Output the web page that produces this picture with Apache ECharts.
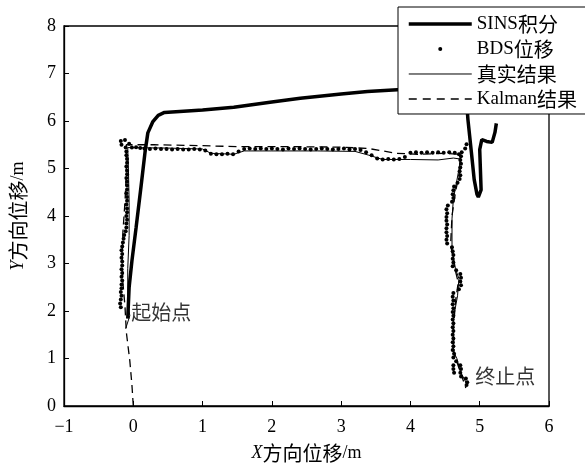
<!DOCTYPE html>
<html>
<head>
<meta charset="utf-8">
<script src="https://cdn.jsdelivr.net/npm/echarts@6/dist/echarts.min.js"></script>
<style>
html, body { margin: 0; padding: 0; background: #fff; }
#chart-container { width: 585px; height: 468px; }
</style>
</head>
<body>
<div id="chart-container"></div>
<script>
// axis ranges / ticks
var xTicks = [-1, 0, 1, 2, 3, 4, 5, 6];
var yTicks = [0, 1, 2, 3, 4, 5, 6, 7, 8];

// SINS积分 (thick line)
var sinsPath = [[-0.08,1.84],[-0.06,2.5],[-0.02,3.05],[0.04,3.75],[0.11,4.6],[0.17,5.35],[0.21,5.75],[0.28,5.98],[0.36,6.12],[0.45,6.18],[1.0,6.23],[1.45,6.29],[2.0,6.4],[2.41,6.48],[3.0,6.57],[3.38,6.62],[3.81,6.66],[4.3,6.7],[4.62,6.72],[4.76,6.68],[4.81,6.45],[4.83,6.03],[4.88,5.34],[4.92,4.77],[4.96,4.46],[4.98,4.4],[5.02,4.55],[5.01,4.98],[5.0,5.4],[5.03,5.61],[5.1,5.57],[5.18,5.55],[5.22,5.76],[5.24,5.95]];

// BDS位移 (dots)
var bdsPoints = [
  [-0.18,2.08],[-0.19,2.16],[-0.18,2.24],[-0.17,2.32],[-0.18,2.40],[-0.17,2.48],[-0.17,2.56],[-0.16,2.64],[-0.17,2.72],[-0.16,2.80],[-0.17,2.88],[-0.16,2.96],[-0.16,3.04],[-0.17,3.12],[-0.16,3.20],[-0.17,3.28],[-0.16,3.36],[-0.15,3.44],[-0.14,3.52],[-0.13,3.60],[-0.11,3.68],[-0.10,3.76],[-0.10,3.84],[-0.09,3.92],[-0.10,4.00],[-0.09,4.08],[-0.09,4.16],[-0.10,4.24],[-0.09,4.32],[-0.09,4.40],[-0.10,4.48],[-0.09,4.56],[-0.09,4.64],[-0.09,4.72],[-0.10,4.80],[-0.09,4.88],[-0.09,4.96],[-0.10,5.04],[-0.09,5.12],[-0.09,5.20],[-0.10,5.28],[-0.10,5.36],[-0.11,5.44],[-0.17,5.50],[-0.18,5.58],[-0.12,5.60],[-0.06,5.52],
  [-0.02,5.44],[0.04,5.45],[0.10,5.43],[0.16,5.42],[0.24,5.41],[0.32,5.42],[0.40,5.41],[0.48,5.41],[0.56,5.40],[0.64,5.41],[0.72,5.40],[0.80,5.40],[0.88,5.41],[0.96,5.40],[1.04,5.38],[1.12,5.31],[1.20,5.30],[1.28,5.30],[1.36,5.31],[1.44,5.30],[1.52,5.36],[1.60,5.41],[1.68,5.42],[1.76,5.41],[1.84,5.42],[1.92,5.41],[2.00,5.42],[2.08,5.41],[2.16,5.40],[2.24,5.42],[2.32,5.41],[2.40,5.42],[2.48,5.41],[2.56,5.40],[2.64,5.41],[2.72,5.42],[2.80,5.41],[2.88,5.40],[2.96,5.41],[3.04,5.42],[3.12,5.40],[3.20,5.41],[3.28,5.39],[3.36,5.34],[3.44,5.28],[3.52,5.21],[3.60,5.19],[3.68,5.20],[3.76,5.19],[3.84,5.20],[3.92,5.24],[4.00,5.33],[4.08,5.34],[4.16,5.33],[4.24,5.34],[4.32,5.33],[4.40,5.34],[4.48,5.33],[4.56,5.34],[4.64,5.33],[4.70,5.30],
  [4.81,5.51],[4.79,5.42],[4.74,5.34],[4.73,5.26],[4.72,5.18],[4.73,5.10],[4.72,5.02],[4.71,4.94],[4.72,4.86],[4.71,4.78],[4.68,4.70],[4.63,4.62],[4.62,4.54],[4.61,4.46],[4.62,4.38],[4.60,4.30],[4.54,4.22],[4.52,4.14],[4.53,4.06],[4.52,3.98],[4.52,3.90],[4.53,3.82],[4.52,3.74],[4.52,3.66],[4.53,3.58],[4.52,3.50],[4.53,3.42],[4.60,3.34],[4.61,3.26],[4.62,3.18],[4.61,3.10],[4.62,3.02],[4.61,2.94],[4.66,2.86],[4.72,2.78],[4.73,2.70],[4.72,2.62],[4.73,2.54],[4.70,2.46],[4.62,2.38],[4.61,2.30],[4.62,2.22],[4.61,2.14],[4.62,2.06],[4.61,1.98],[4.62,1.90],[4.61,1.82],[4.62,1.74],[4.61,1.66],[4.62,1.58],[4.61,1.50],[4.62,1.42],[4.61,1.34],[4.62,1.26],[4.61,1.18],[4.63,1.10],[4.62,1.02],[4.66,0.94],[4.72,0.86],[4.73,0.78],[4.72,0.70],[4.73,0.62],[4.80,0.58],[4.82,0.50],[4.81,0.44],[4.62,0.86],[4.62,0.78],[4.63,0.70]
];

// 真实结果 (thin solid)
var truePath = [[-0.11,1.63],[-0.05,1.9],[-0.08,2.19],[-0.08,2.89],[-0.06,3.59],[-0.06,4.29],[-0.07,4.98],[-0.08,5.44],[0.5,5.43],[1.0,5.41],[1.12,5.32],[1.45,5.30],[1.6,5.37],[2.0,5.37],[2.66,5.37],[3.2,5.36],[3.4,5.28],[3.6,5.19],[4.0,5.19],[4.4,5.18],[4.62,5.22],[4.72,5.2],[4.7,4.98],[4.62,4.36],[4.6,3.94],[4.6,3.31],[4.65,2.89],[4.7,2.68],[4.68,2.32],[4.62,1.84],[4.62,1.15],[4.67,1.0],[4.72,0.73],[4.82,0.44]];

// Kalman结果 (dashed)
var kalmanPath = [[0,0],[-0.02,0.45],[-0.05,0.95],[-0.1,1.55],[-0.12,2.1],[-0.15,2.6],[-0.16,3.1],[-0.15,3.66],[-0.12,4.29],[-0.1,4.9],[-0.1,5.5],[0.3,5.5],[1.0,5.48],[1.5,5.46],[2.3,5.46],[3.0,5.45],[3.4,5.42],[3.8,5.32],[4.1,5.3],[4.5,5.32],[4.72,5.3],[4.72,5.0],[4.65,4.5],[4.6,4.0],[4.58,3.4],[4.64,2.9],[4.69,2.6],[4.65,2.2],[4.62,1.6],[4.63,1.1],[4.7,0.8],[4.8,0.38]];

// text annotations
var annoNames = ['起始点', '终止点'];
var annoX = [-0.035, 4.93];
var annoY = [1.97, 0.63];

var seriesNames = ['SINS积分', 'BDS位移', '真实结果', 'Kalman结果'];

var serif = 'Liberation Serif';
var cjkFont = 'Noto Sans CJK SC';

// wrap chinese runs so they get the CJK font
function cjk(s) {
	return s.replace(/([\u4e00-\u9fff]+)/g, '{c|$1}');
}

var dom = document.getElementById('chart-container');
var myChart = echarts.init(dom, null, { renderer: 'canvas' });

var option = {
	animation: false,
	textStyle: {
		fontFamily: serif,
		color: '#000'
	},
	grid: {
		left: 63,
		right: 36,
		top: 26,
		bottom: 60,
		show: true,
		borderColor: '#000',
		borderWidth: 1.3,
		backgroundColor: 'transparent'
	},
	legend: {
		orient: 'vertical',
		left: 398,
		top: 7,
		padding: [7, 40, 5, 9],
		itemWidth: 63,
		itemHeight: 4,
		itemGap: 5,
		backgroundColor: '#fff',
		borderColor: '#000',
		borderWidth: 1,
		borderRadius: 0,
		formatter: function (name) { return cjk(name); },
		textStyle: {
			fontFamily: serif,
			fontSize: 19,
			lineHeight: 18,
			color: '#000',
			rich: {
				c: { fontFamily: cjkFont, fontSize: 20, lineHeight: 18, color: '#000' }
			}
		},
		data: [
			{ name: seriesNames[0], itemStyle: { opacity: 0 }, lineStyle: { color: '#000', width: 3.5, type: 'solid' } },
			{ name: seriesNames[1], itemStyle: { color: '#000' } },
			{ name: seriesNames[2], itemStyle: { opacity: 0 }, lineStyle: { color: '#000', width: 1, type: 'solid' } },
			{ name: seriesNames[3], itemStyle: { opacity: 0 }, lineStyle: { color: '#000', width: 1.5, type: [8, 6] } }
		]
	},
	xAxis: {
		type: 'value',
		min: xTicks[0],
		max: xTicks[xTicks.length - 1],
		interval: 1,
		name: '{i|X}{c|方向位移}/m',
		nameLocation: 'middle',
		nameGap: 37,
		nameTextStyle: {
			fontFamily: serif,
			fontSize: 18,
			color: '#000',
			rich: {
				i: { fontFamily: serif, fontStyle: 'italic', fontSize: 18, color: '#000' },
				c: { fontFamily: cjkFont, fontSize: 20, color: '#000' }
			}
		},
		axisLine: { show: true, onZero: false, lineStyle: { color: '#000', width: 1.3 } },
		axisTick: { show: true, inside: true, length: 5, lineStyle: { color: '#000', width: 1 } },
		axisLabel: {
			fontFamily: serif,
			fontSize: 18,
			color: '#000',
			margin: 12,
			formatter: function (v) { return v < 0 ? '\u2212' + (-v) : String(v); }
		},
		splitLine: { show: false }
	},
	yAxis: {
		type: 'value',
		min: yTicks[0],
		max: yTicks[yTicks.length - 1],
		interval: 1,
		name: '{i|Y}{c|方向位移}/m',
		nameLocation: 'middle',
		nameGap: 36,
		nameTextStyle: {
			fontFamily: serif,
			fontSize: 18,
			color: '#000',
			rich: {
				i: { fontFamily: serif, fontStyle: 'italic', fontSize: 18, color: '#000' },
				c: { fontFamily: cjkFont, fontSize: 20, color: '#000' }
			}
		},
		axisLine: { show: true, onZero: false, lineStyle: { color: '#000', width: 1.3 } },
		axisTick: { show: true, inside: true, length: 5, lineStyle: { color: '#000', width: 1 } },
		axisLabel: {
			fontFamily: serif,
			fontSize: 18,
			color: '#000',
			margin: 8
		},
		splitLine: { show: false }
	},
	series: [
		{
			name: seriesNames[2],
			type: 'line',
			symbol: 'none',
			showSymbol: false,
			lineStyle: { color: '#000', width: 1 },
			itemStyle: { color: '#000' },
			data: truePath,
			z: 2
		},
		{
			name: seriesNames[3],
			type: 'line',
			symbol: 'none',
			showSymbol: false,
			lineStyle: { color: '#000', width: 1.3, type: [8, 5] },
			itemStyle: { color: '#000' },
			data: kalmanPath,
			z: 2
		},
		{
			name: seriesNames[1],
			type: 'scatter',
			symbol: 'circle',
			symbolSize: 4,
			itemStyle: { color: '#000', opacity: 1 },
			data: bdsPoints,
			z: 3
		},
		{
			name: seriesNames[0],
			type: 'line',
			symbol: 'none',
			showSymbol: false,
			lineStyle: { color: '#000', width: 3.5 },
			itemStyle: { color: '#000' },
			data: sinsPath,
			z: 3
		},
		{
			name: 'anno',
			type: 'scatter',
			symbolSize: 1,
			silent: true,
			itemStyle: { color: 'rgba(0,0,0,0)' },
			label: {
				show: true,
				position: 'right',
				distance: 0,
				fontFamily: cjkFont,
				fontSize: 20,
				color: '#000',
				formatter: function (p) { return annoNames[p.dataIndex]; }
			},
			data: annoX.map(function (x, i) { return [x, annoY[i]]; }),
			z: 4
		}
	]
};

myChart.setOption(option);
window.addEventListener('resize', myChart.resize);
</script>
</body>
</html>
